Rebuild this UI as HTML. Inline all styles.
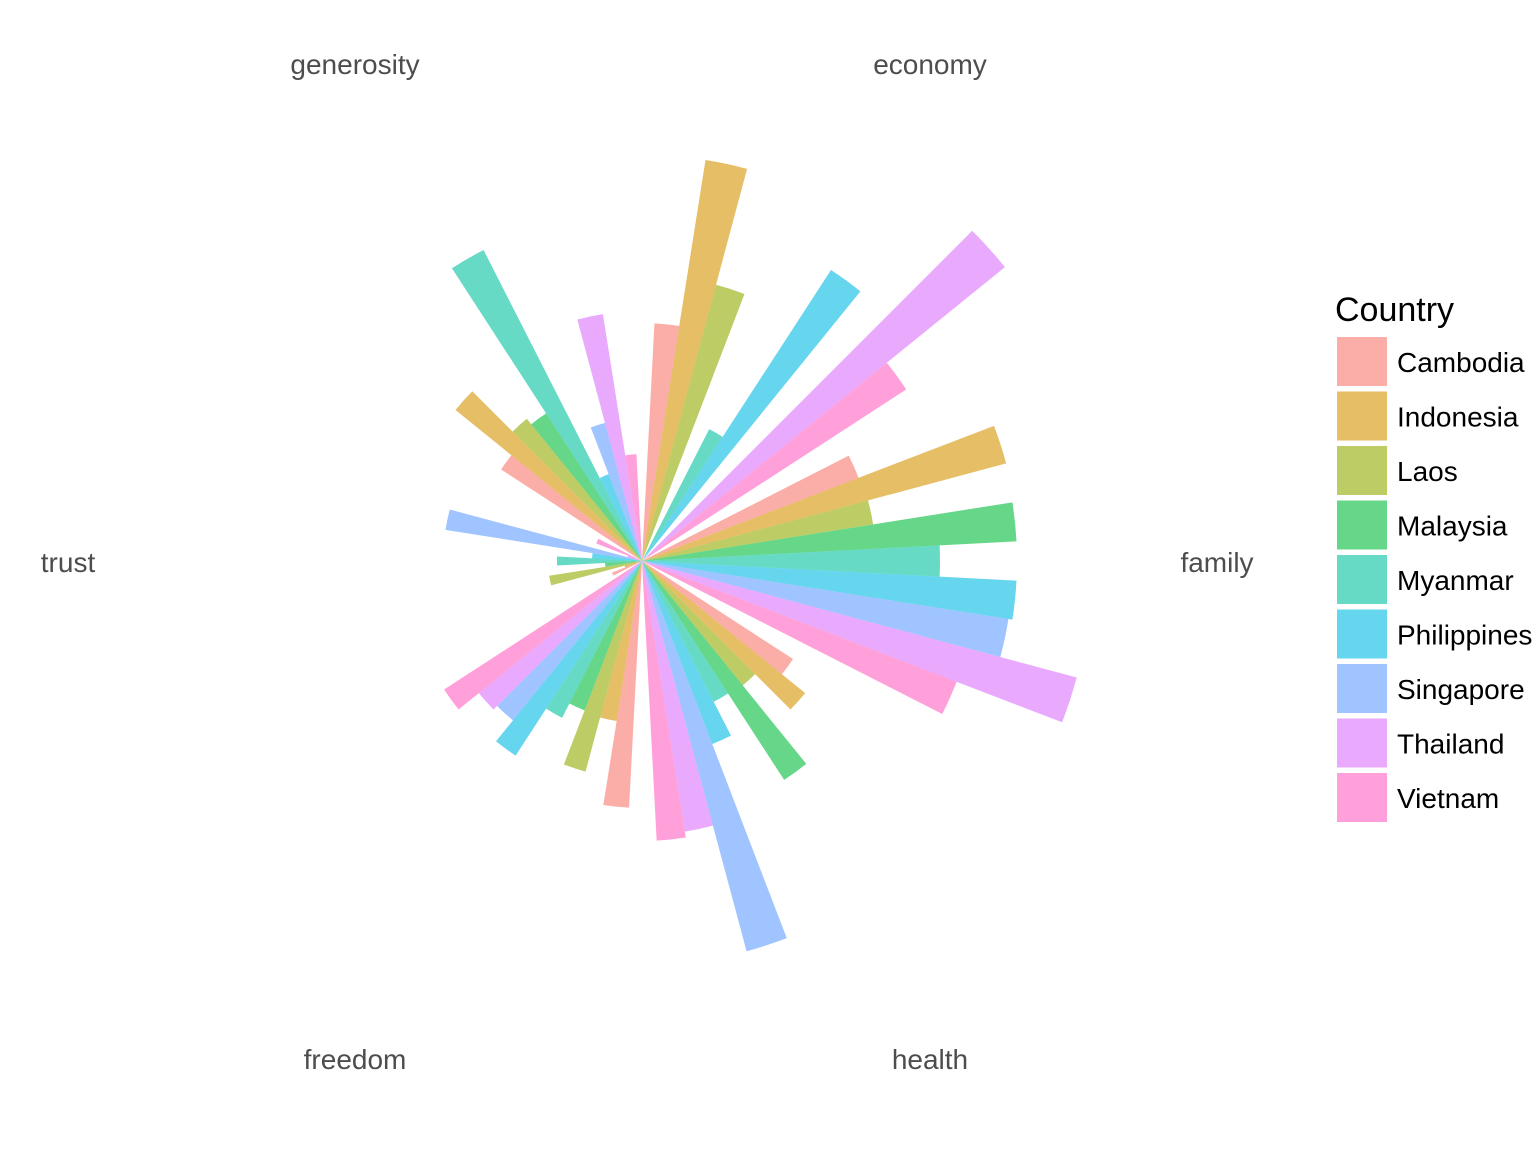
<!DOCTYPE html>
<html><head><meta charset="utf-8"><style>
body{margin:0;background:#fff;width:1540px;height:1170px;overflow:hidden}
svg{font-family:"Liberation Sans",sans-serif}
</style></head><body>
<svg id="chart" width="1540" height="1170">
<g id="bars"></g>
<g id="axis"></g>
<g id="legend">
<text x="1335" y="321" font-size="34" fill="#000">Country</text>
</g>
</svg>
<script>
const categories = ["economy","family","health","freedom","trust","generosity"];
const countries = ["Cambodia","Indonesia","Laos","Malaysia","Myanmar","Philippines","Singapore","Thailand","Vietnam"];
const colors = ["#F8766D","#D39200","#93AA00","#00BA38","#00C19F","#00B9E3","#619CFF","#DB72FB","#FF61C3"];
const economy =    [238,406,286,0,148,347,0,467,315];
const family =     [232,377,234,375,298,375,371,450,337];
const health =     [180,210,160,261,158,196,404,274,280];
const freedom =    [247,162,218,160,176,232,205,210,236];
const trust =      [32,18,94,37,85,50,199,15,49];
const generosity = [168,240,183,176,349,93,143,250,107];
const series = [economy,family,health,freedom,trust,generosity];

const cx=642, cy=561;
const NS="http://www.w3.org/2000/svg";
const rScale = v => v;
const angScale = (ci, k) => ci*60 + 3 + k*6;
function pt(r,a){const t=a*Math.PI/180;return [cx+r*Math.sin(t), cy-r*Math.cos(t)];}
const bars=document.getElementById('bars');
categories.forEach((c,ci)=>{
  countries.forEach((n,k)=>{
    const r=rScale(series[ci][k]);
    const a0=angScale(ci,k), a1=a0+6;
    const p0=pt(r,a0), p1=pt(r,a1);
    const p=document.createElementNS(NS,'path');
    p.setAttribute('d',`M${cx},${cy}L${p0[0]},${p0[1]}A${r},${r} 0 0 1 ${p1[0]},${p1[1]}Z`);
    p.setAttribute('fill',colors[k]);
    p.setAttribute('fill-opacity','0.6');
    
    
    bars.appendChild(p);
  });
});
const axis=document.getElementById('axis');
const labelPos=[[930,64],[1217,562],[930,1059],[355,1059],[68,562],[355,64]];
categories.forEach((c,i)=>{
  const t=document.createElementNS(NS,'text');
  t.setAttribute('x',labelPos[i][0]);t.setAttribute('y',labelPos[i][1]+10);
  t.setAttribute('text-anchor','middle');t.setAttribute('font-size','28');t.setAttribute('fill','#4d4d4d');
  t.textContent=c;
  
  
  axis.appendChild(t);
});
const lg=document.getElementById('legend');
countries.forEach((n,k)=>{
  const y=337+k*54.5;
  const r=document.createElementNS(NS,'rect');
  r.setAttribute('x',1337);r.setAttribute('y',y);r.setAttribute('width',50);r.setAttribute('height',49);
  r.setAttribute('fill',colors[k]);r.setAttribute('fill-opacity','0.6');
  
  
  lg.appendChild(r);
  const t=document.createElementNS(NS,'text');
  t.setAttribute('x',1397);t.setAttribute('y',y+35);t.setAttribute('font-size','28');t.setAttribute('fill','#000');
  t.textContent=n;
  
  
  lg.appendChild(t);
});
</script>
</body></html>
